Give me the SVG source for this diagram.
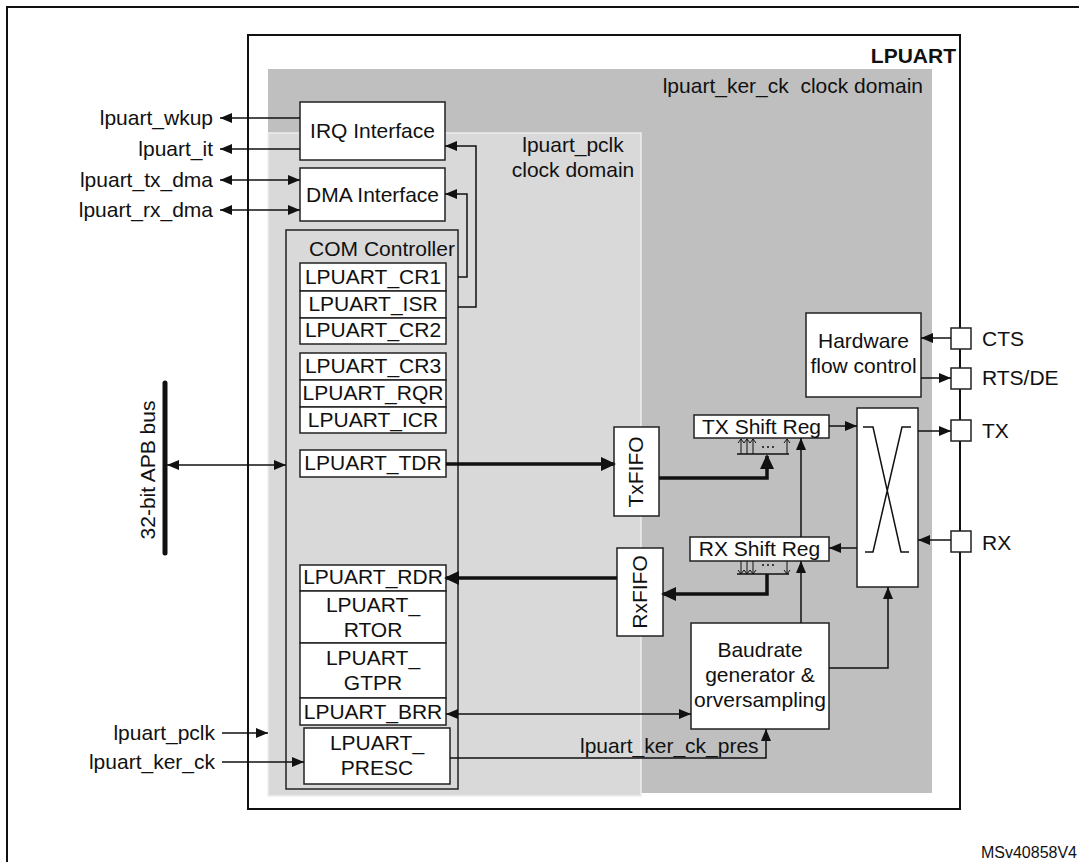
<svg xmlns="http://www.w3.org/2000/svg" width="1079" height="862" viewBox="0 0 1079 862">
<defs>
<style>
.t{font-family:"Liberation Sans",Arial,sans-serif;font-size:21px;fill:#111}
.b{font-family:"Liberation Sans",Arial,sans-serif;font-size:21px;font-weight:bold;fill:#111}
.m{text-anchor:middle}
.e{text-anchor:end}
.box{fill:#fff;stroke:#222;stroke-width:1.5}
.ln{fill:none;stroke:#111;stroke-width:1.5}
.thk{fill:none;stroke:#111;stroke-width:3.5}
.sm{fill:none;stroke:#111;stroke-width:1}
</style>
<marker id="ah" markerUnits="userSpaceOnUse" markerWidth="12" markerHeight="10" refX="12" refY="5" orient="auto-start-reverse" viewBox="0 0 12 10"><path d="M0,0 L12,5 L0,10 z" fill="#111"/></marker>
<marker id="AH" markerUnits="userSpaceOnUse" markerWidth="15" markerHeight="14" refX="13" refY="7" orient="auto" viewBox="0 0 15 14"><path d="M0,0 L15,7 L0,14 z" fill="#111"/></marker>
</defs>
<rect x="0" y="0" width="1079" height="862" fill="#fff"/>
<rect x="7" y="7" width="1100" height="900" fill="none" stroke="#111" stroke-width="2"/>

<g id="lpuart">
<rect x="248" y="35" width="712" height="774" fill="#fff" stroke="#111" stroke-width="2"/>
<text class="b e" x="956" y="63">LPUART</text>
</g>
<g id="ker-domain">
<rect x="268" y="69" width="664" height="724" fill="#bfbfbf"/>
<text class="t e" x="923" y="93" xml:space="preserve">lpuart_ker_ck  clock domain</text>
</g>
<g id="pclk-domain">
<rect x="268" y="133" width="373" height="663" fill="#d9d9d9" stroke="#eeeeee" stroke-width="1.5"/>
<text class="t m" x="573" y="152">lpuart_pclk</text>
<text class="t m" x="573" y="177">clock domain</text>
</g>

<g id="irq">
<rect class="box" x="300" y="102" width="145" height="58"/>
<text class="t m" x="372.5" y="138">IRQ Interface</text>
</g>
<g id="dma">
<rect class="box" x="300" y="168" width="145" height="53"/>
<text class="t m" x="372.5" y="202">DMA Interface</text>
</g>

<g id="com">
<rect x="286" y="230" width="172" height="559" fill="none" stroke="#222" stroke-width="1.5"/>
<text class="t m" x="382" y="256">COM Controller</text>
</g>
<g id="regs1">
<rect class="box" x="300" y="263" width="146" height="28"/>
<rect class="box" x="300" y="291" width="146" height="27"/>
<rect class="box" x="300" y="318" width="146" height="26"/>
<text class="t m" x="373" y="284">LPUART_CR1</text>
<text class="t m" x="373" y="311">LPUART_ISR</text>
<text class="t m" x="373" y="337">LPUART_CR2</text>
</g>
<g id="regs2">
<rect class="box" x="300" y="353" width="146" height="27"/>
<rect class="box" x="300" y="380" width="146" height="27"/>
<rect class="box" x="300" y="407" width="146" height="26"/>
<text class="t m" x="373" y="373">LPUART_CR3</text>
<text class="t m" x="373" y="400">LPUART_RQR</text>
<text class="t m" x="373" y="427">LPUART_ICR</text>
</g>
<g id="tdr">
<rect class="box" x="300" y="450" width="146" height="27"/>
<text class="t m" x="373" y="470">LPUART_TDR</text>
</g>
<g id="regs3">
<rect class="box" x="300" y="565" width="146" height="26"/>
<rect class="box" x="300" y="591" width="146" height="52"/>
<rect class="box" x="300" y="643" width="146" height="55"/>
<rect class="box" x="300" y="698" width="146" height="27"/>
<text class="t m" x="373" y="584">LPUART_RDR</text>
<text class="t m" x="373" y="612">LPUART_</text>
<text class="t m" x="373" y="637">RTOR</text>
<text class="t m" x="373" y="665">LPUART_</text>
<text class="t m" x="373" y="690">GTPR</text>
<text class="t m" x="373" y="719">LPUART_BRR</text>
</g>
<g id="presc">
<rect class="box" x="304" y="728" width="146" height="56"/>
<text class="t m" x="377" y="750">LPUART_</text>
<text class="t m" x="377" y="775">PRESC</text>
</g>

<g id="txfifo">
<rect class="box" x="614" y="427" width="45" height="89"/>
<text class="t m" transform="translate(643,472) rotate(-90)">TxFIFO</text>
</g>
<g id="rxfifo">
<rect class="box" x="617" y="548" width="46" height="88"/>
<text class="t m" transform="translate(647,592) rotate(-90)">RxFIFO</text>
</g>

<g id="txshift">
<rect class="box" x="694" y="415" width="135" height="23"/>
<text class="t m" x="761.5" y="434">TX Shift Reg</text>
<line class="ln" x1="737" y1="454" x2="789" y2="454"/>
<path class="sm" d="M741,454V439M738,443L741,439L744,443M747,454V439M744,443L747,439L750,443M753,454V439M750,443L753,439L756,443M787,454V439M784,443L787,439L790,443"/>
<circle cx="763" cy="447" r="1" fill="#111"/><circle cx="768" cy="447" r="1" fill="#111"/><circle cx="773" cy="447" r="1" fill="#111"/>
</g>
<g id="rxshift">
<rect class="box" x="690" y="537" width="139" height="24"/>
<text class="t m" x="759.5" y="556">RX Shift Reg</text>
<line class="ln" x1="737" y1="574" x2="789" y2="574"/>
<path class="sm" d="M741,561V574M738,570L741,574L744,570M747,561V574M744,570L747,574L750,570M753,561V574M750,570L753,574L756,570M787,561V574M784,570L787,574L790,570"/>
<circle cx="763" cy="565" r="1" fill="#111"/><circle cx="768" cy="565" r="1" fill="#111"/><circle cx="773" cy="565" r="1" fill="#111"/>
</g>

<g id="hwflow">
<rect class="box" x="806" y="313" width="115" height="84"/>
<text class="t m" x="863.5" y="348">Hardware</text>
<text class="t m" x="863.5" y="373">flow control</text>
</g>
<g id="mux">
<rect class="box" x="857" y="408" width="61" height="179"/>
<path class="ln" d="M863,427H873L901,552H909M911,427H902L873,552H865"/>
</g>
<g id="baud">
<rect class="box" x="691" y="623" width="138" height="106"/>
<text class="t m" x="760" y="657">Baudrate</text>
<text class="t m" x="760" y="682">generator &amp;</text>
<text class="t m" x="760" y="707">orversampling</text>
</g>

<g id="pins">
<rect class="box" x="951" y="328" width="20" height="21"/>
<rect class="box" x="951" y="368" width="20" height="21"/>
<rect class="box" x="951" y="420" width="20" height="21"/>
<rect class="box" x="951" y="531" width="20" height="21"/>
<text class="t" x="982" y="346">CTS</text>
<text class="t" x="982" y="385">RTS/DE</text>
<text class="t" x="982" y="438">TX</text>
<text class="t" x="982" y="550">RX</text>
</g>

<g id="apb">
<line x1="165" y1="383" x2="165" y2="553" stroke="#111" stroke-width="5" stroke-linecap="round"/>
<text class="t m" transform="translate(155,470) rotate(-90)">32-bit APB bus</text>
</g>

<g id="ext-labels">
<text class="t e" x="213" y="125">lpuart_wkup</text>
<text class="t e" x="213" y="156">lpuart_it</text>
<text class="t e" x="213" y="187">lpuart_tx_dma</text>
<text class="t e" x="213" y="217">lpuart_rx_dma</text>
<text class="t e" x="215" y="740">lpuart_pclk</text>
<text class="t e" x="215" y="769">lpuart_ker_ck</text>
<text class="t" x="580" y="753">lpuart_ker_ck_pres</text>
</g>

<g id="connectors">
<line class="ln" x1="300" y1="118" x2="220" y2="118" marker-end="url(#ah)"/>
<line class="ln" x1="300" y1="149" x2="220" y2="149" marker-end="url(#ah)"/>
<line class="ln" x1="220" y1="180" x2="300" y2="180" marker-start="url(#ah)" marker-end="url(#ah)"/>
<line class="ln" x1="220" y1="210" x2="300" y2="210" marker-start="url(#ah)" marker-end="url(#ah)"/>
<line class="ln" x1="167" y1="465" x2="286" y2="465" marker-start="url(#ah)" marker-end="url(#ah)"/>
<line class="ln" x1="222" y1="733" x2="268" y2="733" marker-end="url(#ah)"/>
<line class="ln" x1="222" y1="762" x2="304" y2="762" marker-end="url(#ah)"/>
<polyline class="ln" points="458,277 467,277 467,194 445,194" marker-end="url(#ah)"/>
<polyline class="ln" points="458,307 476,307 476,146 445,146" marker-end="url(#ah)"/>
<line class="thk" x1="446" y1="464" x2="614" y2="464" marker-end="url(#AH)"/>
<polyline class="thk" points="659,478 767,478 767,456" marker-end="url(#AH)"/>
<polyline class="thk" points="767,574 767,594 663,594" marker-end="url(#AH)"/>
<line class="thk" x1="617" y1="578" x2="446" y2="578" marker-end="url(#AH)"/>
<line class="ln" x1="446" y1="714" x2="691" y2="714" marker-start="url(#ah)" marker-end="url(#ah)"/>
<polyline class="ln" points="450,758 766,758 766,729" marker-end="url(#ah)"/>
<line class="ln" x1="801" y1="623" x2="801" y2="561" marker-end="url(#ah)"/>
<line class="ln" x1="801" y1="537" x2="801" y2="438" marker-end="url(#ah)"/>
<line class="ln" x1="829" y1="426" x2="857" y2="426" marker-end="url(#ah)"/>
<line class="ln" x1="918" y1="431" x2="951" y2="431" marker-end="url(#ah)"/>
<line class="ln" x1="951" y1="540" x2="918" y2="540" marker-end="url(#ah)"/>
<line class="ln" x1="857" y1="548" x2="829" y2="548" marker-end="url(#ah)"/>
<line class="ln" x1="951" y1="338" x2="921" y2="338" marker-end="url(#ah)"/>
<line class="ln" x1="921" y1="378" x2="951" y2="378" marker-end="url(#ah)"/>
<polyline class="ln" points="829,668 888,668 888,587" marker-end="url(#ah)"/>
</g>

<text x="1077" y="858" text-anchor="end" style="font-family:'Liberation Sans',Arial,sans-serif;font-size:16px;fill:#111">MSv40858V4</text>
</svg>
